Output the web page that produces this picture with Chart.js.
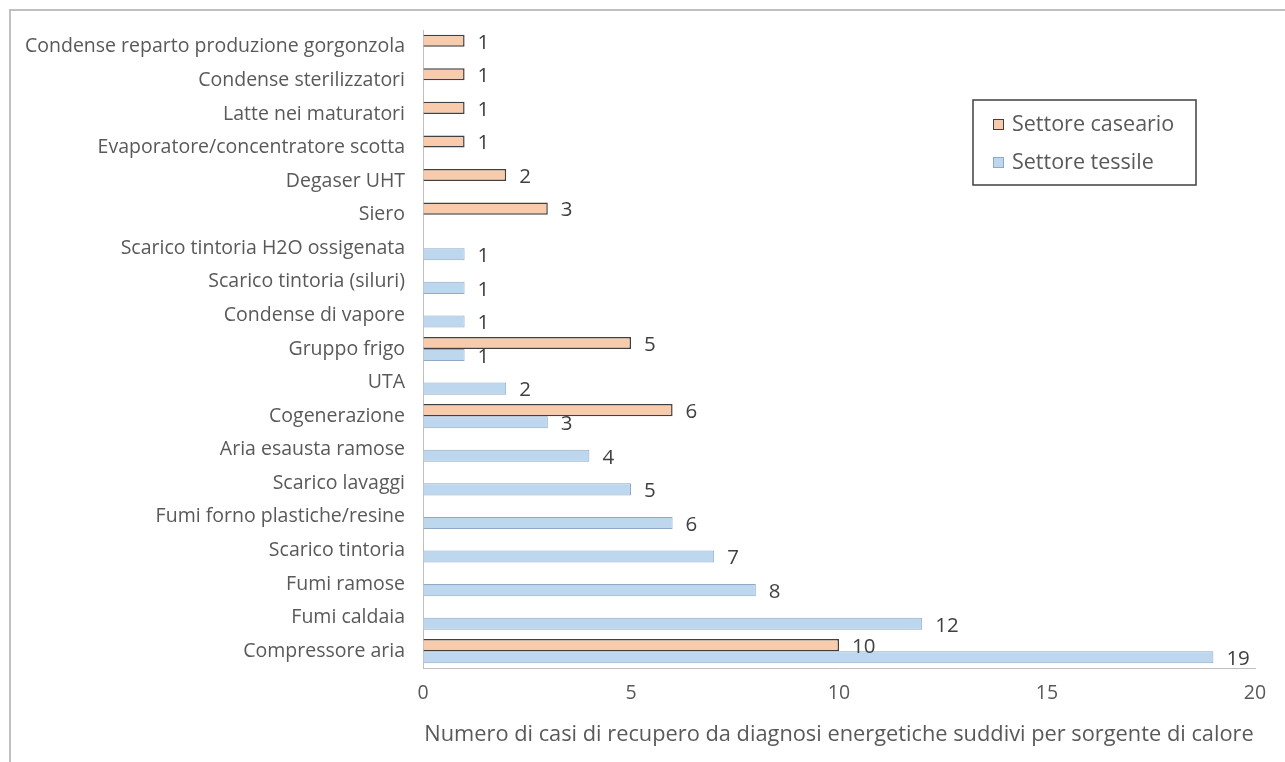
<!DOCTYPE html>
<html>
<head>
<meta charset="utf-8">
<script src="https://cdn.jsdelivr.net/npm/chart.js@4.4.0/dist/chart.umd.min.js"></script>
<style>
    body { margin: 0; background: #fff; }
    #wrap { position: relative; width: 1285px; height: 762px; overflow: hidden; }
    #frame { position: absolute; left: 9px; top: 9px; width: 1400px; height: 900px;
             border-left: 2px solid #c0c0c0; border-top: 2px solid #c0c0c0; }
</style>
</head>
<body>
<div id="wrap">
    <div id="frame"></div>
    <canvas id="myChart"></canvas>
</div>
<script>
// Categorie (dall'alto verso il basso)
const categories = [
    'Condense reparto produzione gorgonzola',
    'Condense sterilizzatori',
    'Latte nei maturatori',
    'Evaporatore/concentratore scotta',
    'Degaser UHT',
    'Siero',
    'Scarico tintoria H2O ossigenata',
    'Scarico tintoria (siluri)',
    'Condense di vapore',
    'Gruppo frigo',
    'UTA',
    'Cogenerazione',
    'Aria esausta ramose',
    'Scarico lavaggi',
    'Fumi forno plastiche/resine',
    'Scarico tintoria',
    'Fumi ramose',
    'Fumi caldaia',
    'Compressore aria'
];
const caseario = [1, 1, 1, 1, 2, 3, null, null, null, 5, null, 6, null, null, null, null, null, null, 10];
const tessile = [null, null, null, null, null, null, 1, 1, 1, 1, 2, 3, 4, 5, 6, 7, 8, 12, 19];
const xTicks = [0, 5, 10, 15, 20];
const axisTitle = 'Numero di casi di recupero da diagnosi energetiche suddivi per sorgente di calore';

const FONT = '"Open Sans", "Noto Sans", sans-serif';

// Etichette dei valori a destra delle barre
const valueLabels = {
    id: 'valueLabels',
    afterDatasetsDraw(chart) {
        const ctx = chart.ctx;
        ctx.save();
        ctx.font = '20.5px ' + FONT;
        ctx.fillStyle = '#404040';
        ctx.textAlign = 'left';
        ctx.textBaseline = 'middle';
        chart.data.datasets.forEach((ds, i) => {
            const meta = chart.getDatasetMeta(i);
            meta.data.forEach((bar, j) => {
                const v = ds.data[j];
                if (v === null || v === undefined) return;
                ctx.fillText(String(v), bar.x + 13, bar.y + 2);
            });
        });
        ctx.restore();
    }
};

// Legenda dentro l'area del grafico
const boxLegend = {
    id: 'boxLegend',
    afterDraw(chart) {
        const ctx = chart.ctx;
        const x = 973, y = 100, w = 223, h = 85;
        ctx.save();
        ctx.fillStyle = '#ffffff';
        ctx.fillRect(x, y, w, h);
        ctx.strokeStyle = '#404040';
        ctx.lineWidth = 1.5;
        ctx.strokeRect(x, y, w, h);
        ctx.font = '21.5px ' + FONT;
        ctx.textBaseline = 'middle';
        chart.data.datasets.forEach((ds, i) => {
            const cy = y + 25 + i * 38;
            ctx.fillStyle = ds.backgroundColor;
            ctx.fillRect(x + 20, cy - 6, 11, 11);
            ctx.strokeStyle = ds.borderColor;
            ctx.lineWidth = 1;
            ctx.strokeRect(x + 20.5, cy - 5.5, 10, 10);
            ctx.fillStyle = '#595959';
            ctx.fillText(ds.label, x + 39, cy);
        });
        ctx.restore();
    }
};

const ctx = document.getElementById('myChart').getContext('2d');
const myChart = new Chart(ctx, {
    type: 'bar',
    data: {
        labels: categories,
        datasets: [
            {
                label: 'Settore caseario',
                data: caseario,
                backgroundColor: '#F8CBAD',
                borderColor: '#404040',
                borderWidth: 1.5,
                categoryPercentage: 0.72,
                barPercentage: 1.0
            },
            {
                label: 'Settore tessile',
                data: tessile,
                backgroundColor: '#BDD7EE',
                borderColor: '#8FA9C6',
                borderWidth: 1,
                categoryPercentage: 0.72,
                barPercentage: 1.0
            }
        ]
    },
    options: {
        indexAxis: 'y',
        responsive: true,
        maintainAspectRatio: false,
        animation: false,
        layout: { padding: { left: 0, right: 30, top: 30, bottom: 0 } },
        plugins: {
            legend: { display: false },
            tooltip: { enabled: false }
        },
        scales: {
            x: {
                min: 0,
                max: 20,
                afterBuildTicks: (scale) => { scale.ticks = xTicks.map(v => ({ value: v })); },
                afterFit: (scale) => { scale.height = 94; },
                grid: { color: 'rgba(0,0,0,0)', drawTicks: false },
                border: { display: true, color: '#bfbfbf', width: 1 },
                ticks: { padding: 14, color: '#595959', font: { family: FONT, size: 19.5 } },
                title: {
                    display: true,
                    text: axisTitle,
                    color: '#595959',
                    font: { family: FONT, size: 21.8 },
                    padding: { top: 14, bottom: 14 }
                }
            },
            y: {
                afterFit: (scale) => { scale.width = 423; },
                grid: { color: 'rgba(0,0,0,0)', drawTicks: false },
                border: { display: true, color: '#bfbfbf', width: 1 },
                ticks: { padding: 18, color: '#595959', autoSkip: false, font: { family: FONT, size: 19.5 } }
            }
        }
    },
    plugins: [valueLabels, boxLegend]
});
</script>
</body>
</html>
